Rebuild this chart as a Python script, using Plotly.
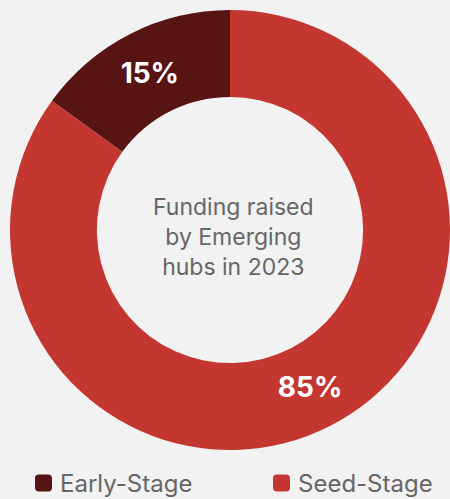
import plotly.graph_objects as go

# Funding split for emerging hubs, 2023
stages = ["Early-Stage", "Seed-Stage"]
shares = [15, 85]
colors = ["#581313", "#c33730"]
center_title = "Funding raised<br>by Emerging<br>hubs in 2023"

W, H = 450, 499
BG = "#f2f2f2"
FONT = "Inter, Roboto, sans-serif"


def px_x(x):
    return x / W


def px_y(y):
    return 1 - y / H


# Seed-Stage is drawn first, clockwise from 12 o'clock, so Early-Stage
# ends up in the upper-left wedge.
fig = go.Figure(
    go.Pie(
        labels=stages[::-1],
        values=shares[::-1],
        hole=0.605,
        sort=False,
        direction="clockwise",
        rotation=0,
        marker=dict(colors=colors[::-1], line=dict(width=0)),
        texttemplate="%{percent:.0%}",
        textposition="inside",
        insidetextorientation="horizontal",
        textfont=dict(family=FONT, size=28, color="white", weight="bold"),
        domain=dict(x=[px_x(10), 1], y=[px_y(450), px_y(10)]),
        showlegend=False,
        hoverinfo="label+percent",
    )
)

# Title in the hole of the donut
fig.add_annotation(
    x=px_x(233), y=px_y(237), xref="paper", yref="paper",
    text=center_title, showarrow=False,
    font=dict(family=FONT, size=23, color="#666666"),
    align="center",
)

# Legend row: rounded swatches with labels
legend_x = [35, 273]
legend_y = 483
sw = 17
r = 4


def conv(tok):
    if "," in tok:
        a, b = tok.split(",")
        return f"{px_x(float(a)):.5f},{px_y(float(b)):.5f}"
    return tok


for x0, name, col in zip(legend_x, stages, colors):
    x1 = x0 + sw
    y0 = legend_y - sw / 2
    y1 = legend_y + sw / 2
    path = (
        f"M{x0 + r},{y0} L{x1 - r},{y0} Q{x1},{y0} {x1},{y0 + r} "
        f"L{x1},{y1 - r} Q{x1},{y1} {x1 - r},{y1} L{x0 + r},{y1} "
        f"Q{x0},{y1} {x0},{y1 - r} L{x0},{y0 + r} Q{x0},{y0} {x0 + r},{y0} Z"
    )
    parts = []
    for tok in path.split(" "):
        cmd = ""
        if tok and tok[0].isalpha():
            cmd, tok = tok[0], tok[1:]
        parts.append(cmd + (conv(tok) if tok else ""))
    fig.add_shape(
        type="path", path=" ".join(parts), xref="paper", yref="paper",
        fillcolor=col, line=dict(width=0),
    )
    fig.add_annotation(
        x=px_x(x1 + 6), y=px_y(legend_y), xref="paper", yref="paper",
        text=name, showarrow=False, xanchor="left", yanchor="middle",
        font=dict(family=FONT, size=24, color="#666666"),
    )

fig.update_layout(
    width=W, height=H,
    margin=dict(l=0, r=0, t=0, b=0),
    paper_bgcolor=BG, plot_bgcolor=BG,
)

fig.write_html("out.html")
